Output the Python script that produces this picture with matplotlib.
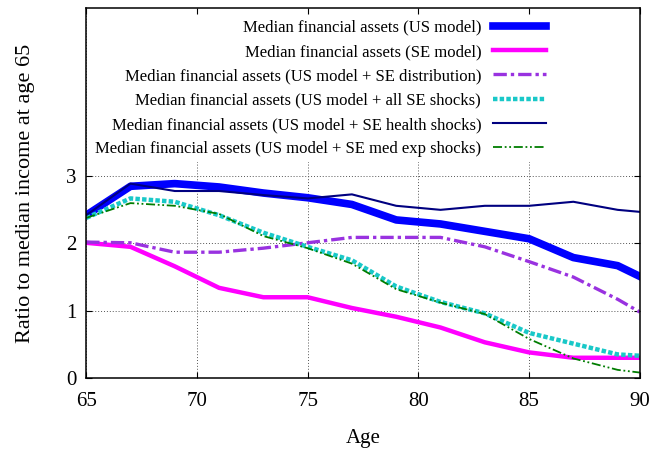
import matplotlib

matplotlib.use("Agg")
import matplotlib.pyplot as plt

plt.rcParams["font.family"] = ["Liberation Serif", "DejaVu Serif"]

ages = [65, 67, 69, 71, 73, 75, 77, 79, 81, 83, 85, 87, 89, 90]

us_model = [2.42, 2.85, 2.89, 2.84, 2.75, 2.68, 2.58, 2.35, 2.29, 2.18, 2.07, 1.79, 1.67, 1.51]
se_model = [2.01, 1.95, 1.66, 1.34, 1.20, 1.20, 1.04, 0.91, 0.75, 0.53, 0.38, 0.30, 0.30, 0.30]
us_se_dist = [2.02, 2.01, 1.87, 1.87, 1.93, 2.01, 2.09, 2.09, 2.09, 1.95, 1.73, 1.50, 1.17, 0.98]
us_all_se = [2.38, 2.67, 2.62, 2.42, 2.16, 1.95, 1.75, 1.36, 1.13, 0.96, 0.67, 0.51, 0.35, 0.33]
us_se_health = [2.42, 2.89, 2.78, 2.78, 2.72, 2.67, 2.73, 2.56, 2.50, 2.56, 2.56, 2.62, 2.50, 2.47]
us_se_medexp = [2.38, 2.60, 2.56, 2.44, 2.11, 1.93, 1.70, 1.32, 1.12, 0.95, 0.58, 0.29, 0.12, 0.08]

series = [
    ("Median financial assets (US model)", us_model, "#0000ff", 5.5, "-"),
    ("Median financial assets (SE model)", se_model, "#ff00ff", 3.2, "-"),
    ("Median financial assets (US model + SE distribution)", us_se_dist, "#9932e0", 2.4, (0, (4, 1.2, 1, 1.2))),
    ("Median financial assets (US model + all SE shocks)", us_all_se, "#19c8c8", 3.2, (0, (1, 0.5))),
    ("Median financial assets (US model + SE health shocks)", us_se_health, "#000080", 1.5, "-"),
    ("Median financial assets (US model + SE med exp shocks)", us_se_medexp, "#007d00", 1.3, (0, (5, 1.5, 1, 1.5, 1, 1.5))),
]

fig = plt.figure(figsize=(6.63, 4.51), dpi=100)
ax = fig.add_axes([0.13, 0.162, 0.835, 0.82])

for label, vals, color, lw, ls in series:
    ax.plot(ages, vals, color=color, lw=lw, ls=ls, label=label)

ax.set_xlim(65, 90)
ax.set_ylim(0, 5.5)
ax.set_xticks([65, 70, 75, 80, 85, 90])
ax.set_yticks([0, 1, 2, 3])
ax.grid(True, color="#555555", ls=(0, (1, 2)), lw=0.7)
ax.tick_params(direction="in", top=True, right=True, labelsize=15, length=4)
ax.tick_params(axis="x", pad=10)
ax.tick_params(axis="y", pad=7)
for s in ax.spines.values():
    s.set_linewidth(1.1)

ax.set_xlabel("Age", fontsize=15, labelpad=13)
ax.set_ylabel("Ratio to median income at age 65", fontsize=16, labelpad=22)

# legend: labels right-aligned, line sample on the right (gnuplot-style key)
leg = ax.legend(loc="upper right", bbox_to_anchor=(0.855, 1.005), markerfirst=False,
                fontsize=12, handlelength=3.2, handletextpad=0.7, labelspacing=0.5,
                borderpad=0.3, framealpha=1, fancybox=False)
leg.get_frame().set_edgecolor("none")
for t in leg.get_texts():
    t.set_ha("right")
leg._legend_box.align = "right"

fig.savefig("out.png", dpi=100)
